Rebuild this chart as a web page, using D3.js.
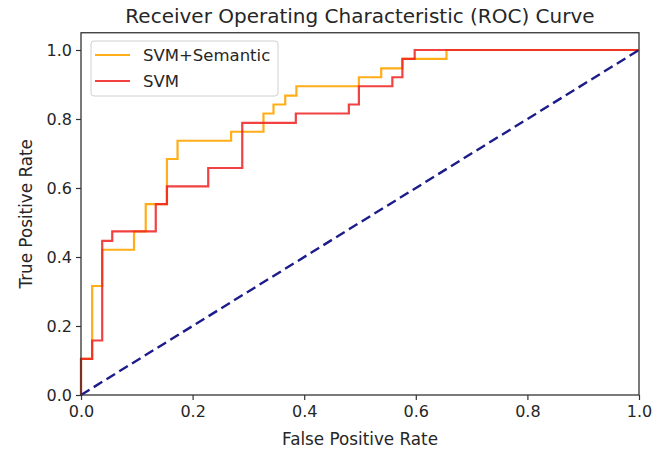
<!DOCTYPE html>
<html>
<head>
<meta charset="utf-8">
<script src="https://cdn.jsdelivr.net/npm/d3@7"></script>
<style>
  body { margin: 0; background: #fff; }
  text { font-family: "DejaVu Sans", sans-serif; fill: #262626; }
</style>
</head>
<body>
<div id="chart"></div>
<script>
//ROC corner points
var semFpr = [0, 0, 0.020, 0.020, 0.038, 0.038, 0.095, 0.095, 0.116, 0.116, 0.154, 0.154, 0.173, 0.173, 0.269, 0.269, 0.327, 0.327, 0.345, 0.345, 0.366, 0.366, 0.386, 0.386, 0.498, 0.498, 0.538, 0.538, 0.576, 0.576, 0.655, 0.655, 1.0];
var semTpr = [0, 0.105, 0.105, 0.316, 0.316, 0.421, 0.421, 0.474, 0.474, 0.553, 0.553, 0.684, 0.684, 0.737, 0.737, 0.763, 0.763, 0.816, 0.816, 0.842, 0.842, 0.868, 0.868, 0.895, 0.895, 0.921, 0.921, 0.947, 0.947, 0.974, 0.974, 1.0, 1.0];

var svmFpr = [0, 0, 0.020, 0.020, 0.038, 0.038, 0.056, 0.056, 0.134, 0.134, 0.154, 0.154, 0.228, 0.228, 0.289, 0.289, 0.385, 0.385, 0.480, 0.480, 0.498, 0.498, 0.558, 0.558, 0.576, 0.576, 0.598, 0.598, 1.0];
var svmTpr = [0, 0.105, 0.105, 0.158, 0.158, 0.447, 0.447, 0.474, 0.474, 0.553, 0.553, 0.605, 0.605, 0.658, 0.658, 0.789, 0.789, 0.816, 0.816, 0.842, 0.842, 0.895, 0.895, 0.921, 0.921, 0.974, 0.974, 1.0, 1.0];

var chanceFpr = [0, 1];
var chanceTpr = [0, 1];

var seriesNames = ["SVM+Semantic", "SVM"];
var seriesColors = ["#ffa500", "#f02020"];
var xTicks = [0, 0.2, 0.4, 0.6, 0.8, 1.0];
var yTicks = [0, 0.2, 0.4, 0.6, 0.8, 1.0];

(function(){
  var width = 664, height = 450;
  var padLeft = 81, padRight = 639, padTop = 32.75, padBottom = 395;

  var svg = d3.select("#chart").append("svg")
      .attr("width", width)
      .attr("height", height);

  var x = d3.scaleLinear().domain([0, 1]).range([padLeft, padRight]);
  var y = d3.scaleLinear().domain([0, 1.05]).range([padBottom, padTop]);

  function pts(xs, ys) {
    return xs.map(function(v, i){ return [v, ys[i]]; });
  }

  var line = d3.line()
      .x(function(d){ return x(d[0]); })
      .y(function(d){ return y(d[1]); });

  //curves
  svg.append("path")
      .datum(pts(semFpr, semTpr))
      .attr("d", line)
      .attr("fill", "none")
      .attr("stroke", seriesColors[0])
      .attr("stroke-width", 2.2)
      .attr("stroke-opacity", 0.9);

  svg.append("path")
      .datum(pts(svmFpr, svmTpr))
      .attr("d", line)
      .attr("fill", "none")
      .attr("stroke", seriesColors[1])
      .attr("stroke-width", 2.2)
      .attr("stroke-opacity", 0.85);

  svg.append("path")
      .datum(pts(chanceFpr, chanceTpr))
      .attr("d", line)
      .attr("fill", "none")
      .attr("stroke", "#1c1c8a")
      .attr("stroke-width", 2.4)
      .attr("stroke-dasharray", "10,5");

  //axes
  var xAxis = d3.axisBottom(x).tickValues(xTicks).tickFormat(d3.format(".1f")).tickSize(5).tickPadding(6);
  var yAxis = d3.axisLeft(y).tickValues(yTicks).tickFormat(d3.format(".1f")).tickSize(5).tickPadding(4);

  var gx = svg.append("g").attr("transform", "translate(0," + padBottom + ")").call(xAxis);
  var gy = svg.append("g").attr("transform", "translate(" + padLeft + ",0)").call(yAxis);
  [gx, gy].forEach(function(g){
    g.select(".domain").remove();
    g.selectAll("line").attr("stroke", "#333").attr("stroke-width", 1.2);
    g.selectAll("text").style("font-size", "16px").style("font-family", "DejaVu Sans").attr("fill", "#333");
  });

  //frame
  svg.append("rect")
      .attr("x", padLeft).attr("y", padTop)
      .attr("width", padRight - padLeft).attr("height", padBottom - padTop)
      .attr("fill", "none")
      .attr("stroke", "#333")
      .attr("stroke-width", 1.3);

  //title and labels
  svg.append("text")
      .attr("x", (padLeft + padRight) / 2).attr("y", 23)
      .attr("text-anchor", "middle")
      .style("font-size", "20px")
      .text("Receiver Operating Characteristic (ROC) Curve");

  svg.append("text")
      .attr("x", (padLeft + padRight) / 2).attr("y", 445)
      .attr("text-anchor", "middle")
      .style("font-size", "16.8px")
      .text("False Positive Rate");

  svg.append("text")
      .attr("transform", "translate(32," + ((padTop + padBottom) / 2) + ") rotate(-90)")
      .attr("text-anchor", "middle")
      .style("font-size", "16.8px")
      .text("True Positive Rate");

  //legend
  var legend = svg.append("g");
  legend.append("rect")
      .attr("x", 91).attr("y", 41)
      .attr("width", 187).attr("height", 55)
      .attr("rx", 3)
      .attr("fill", "#fff").attr("fill-opacity", 0.8)
      .attr("stroke", "#d0d0d0");

  seriesNames.forEach(function(name, i){
    var ly = 55 + i * 26;
    legend.append("line")
        .attr("x1", 95).attr("x2", 130)
        .attr("y1", ly).attr("y2", ly)
        .attr("stroke", seriesColors[i])
        .attr("stroke-width", 2.2)
        .attr("stroke-opacity", i == 0 ? 0.9 : 0.85);
    legend.append("text")
        .attr("x", 143).attr("y", ly + 6)
        .style("font-size", "16.5px")
        .text(name);
  });
})();
</script>
</body>
</html>
